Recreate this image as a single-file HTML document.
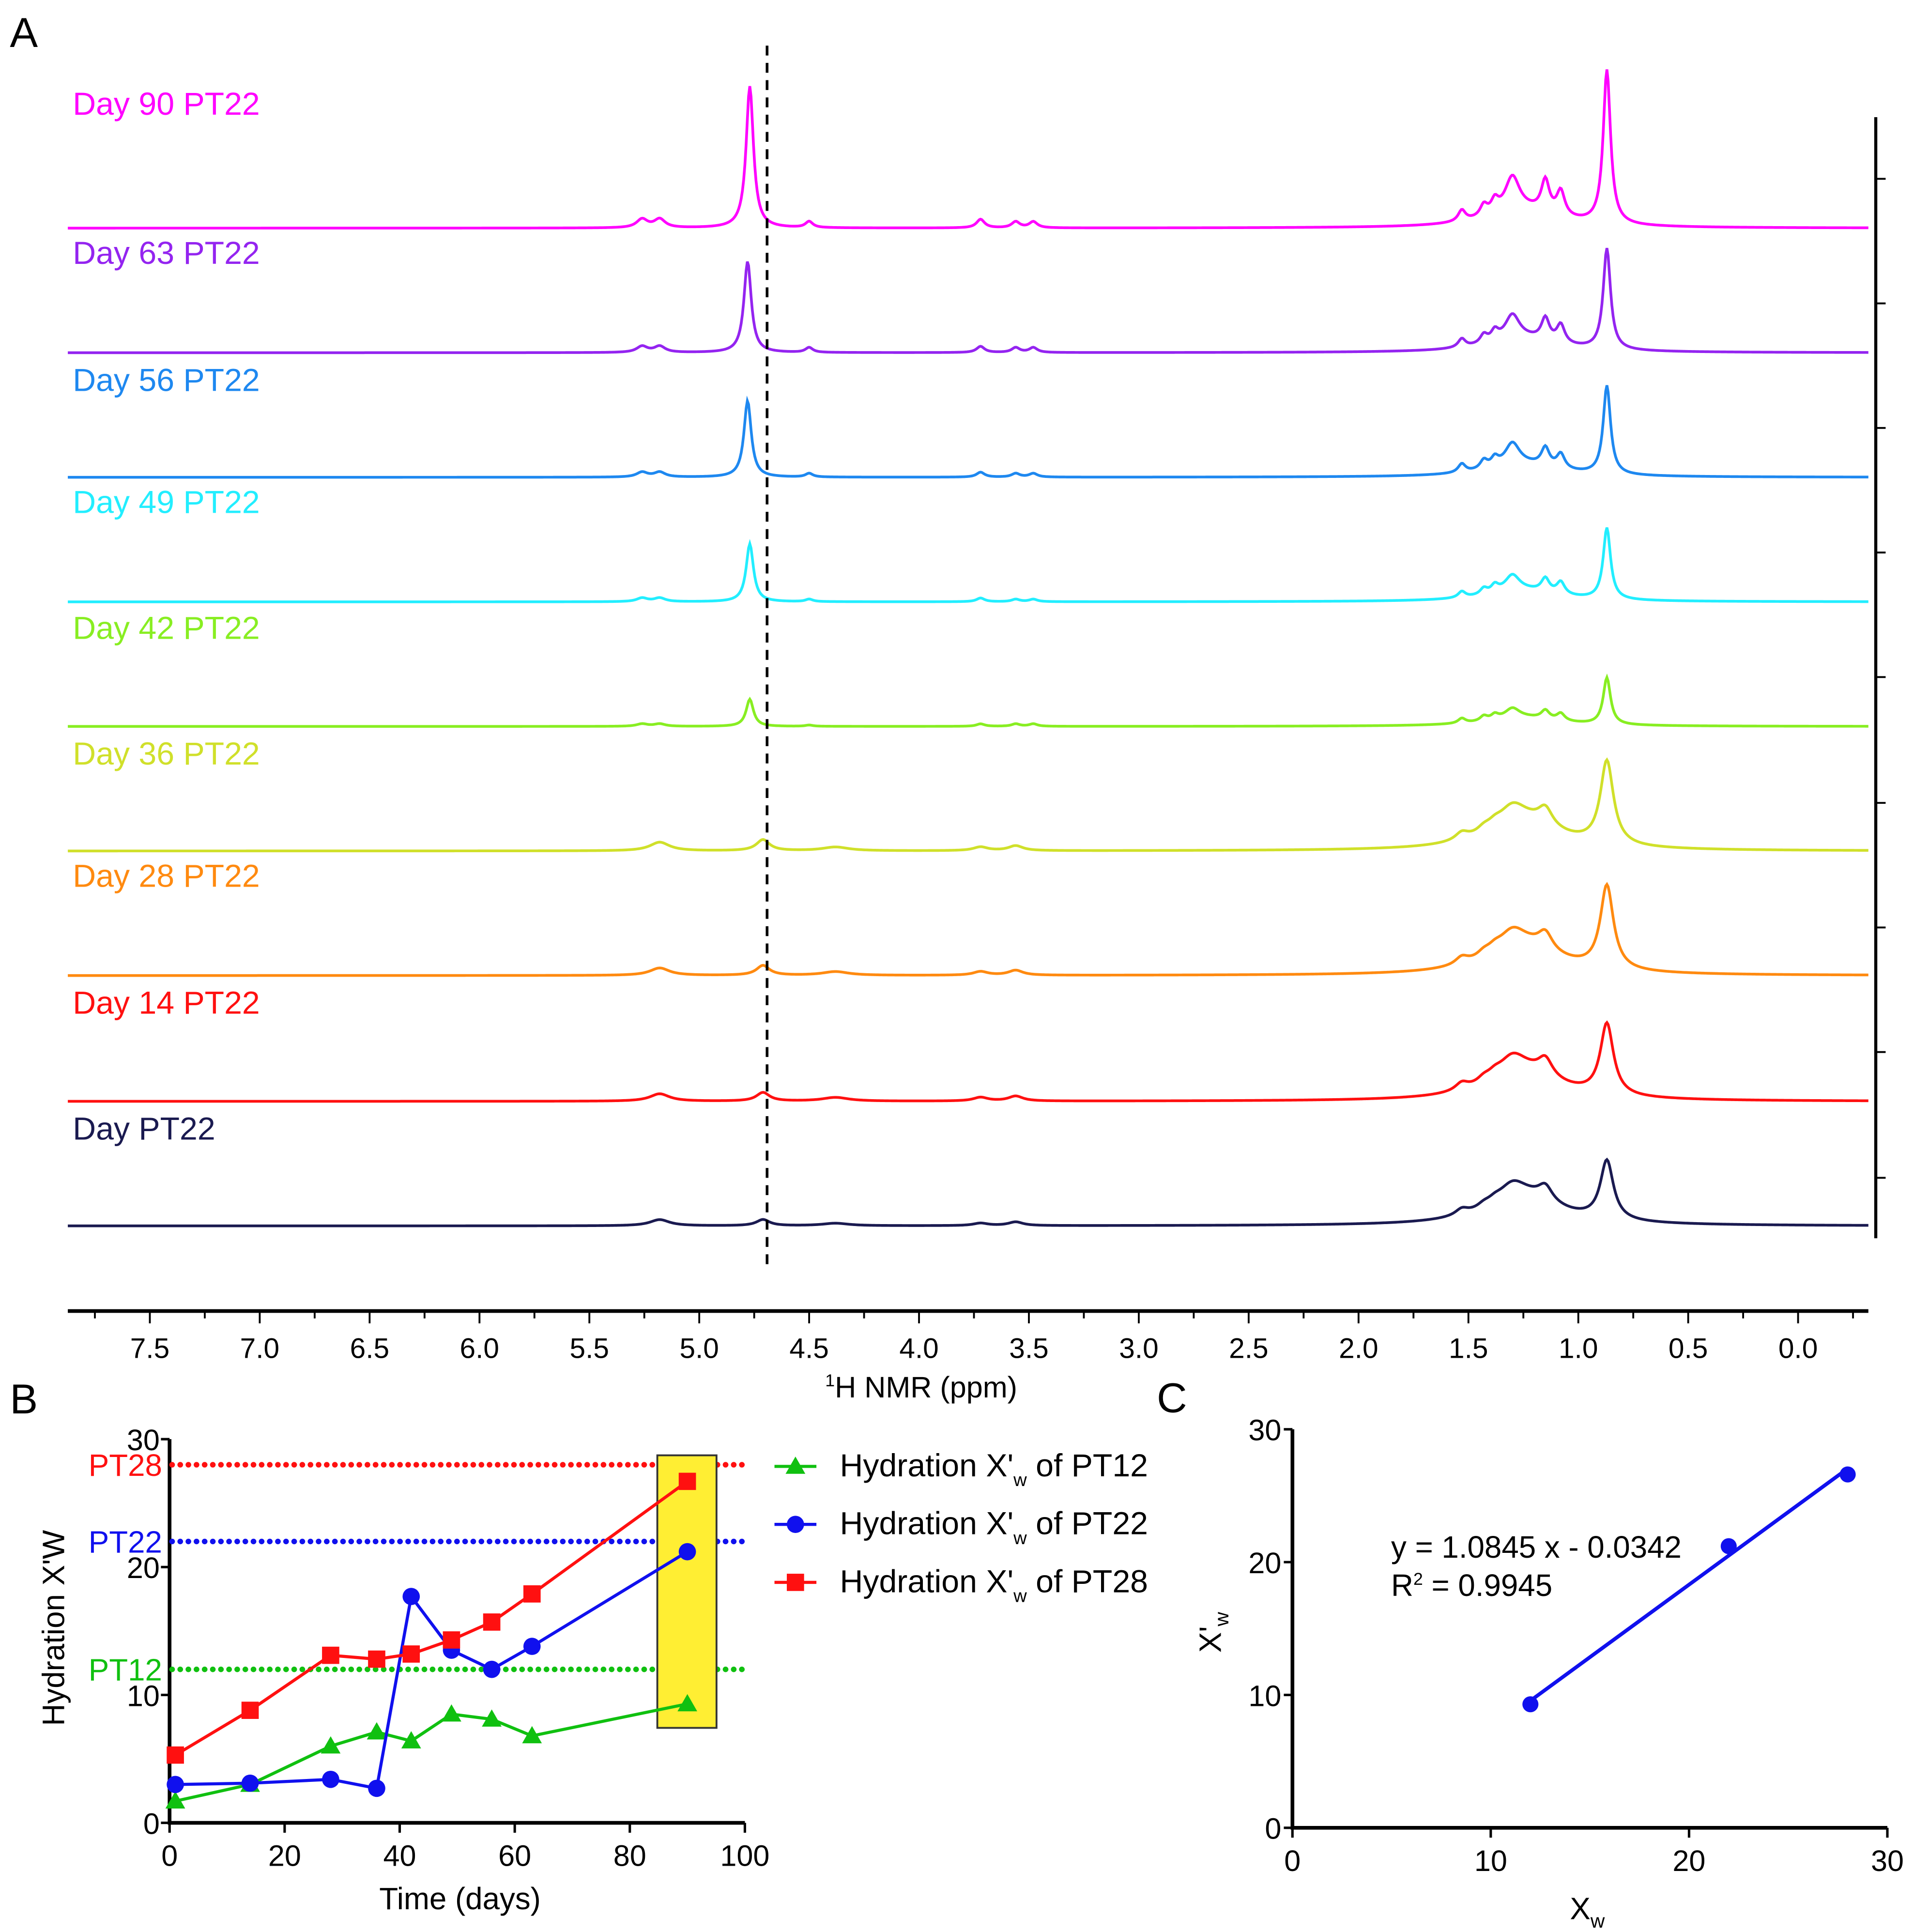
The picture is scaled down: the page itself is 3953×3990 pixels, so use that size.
<!DOCTYPE html>
<html><head><meta charset="utf-8"><style>
html,body{margin:0;padding:0;background:#fff;}
svg{display:block;}
text{font-family:"Liberation Sans",Arial,sans-serif;}
</style></head><body>
<svg id="fig" width="3953" height="3990" viewBox="0 0 1552 1566.5" preserveAspectRatio="none" xmlns="http://www.w3.org/2000/svg"></svg>
<script>
// ---------- Panel A data ----------
const spectrumLabels = ["Day 90 PT22","Day 63 PT22","Day 56 PT22","Day 49 PT22","Day 42 PT22","Day 36 PT22","Day 28 PT22","Day 14 PT22","Day PT22"];
const spectrumColors = ["#ff00ff","#9424f0","#1e88f0","#22eeff","#88ee22","#d0e02a","#ff8a10","#ff1010","#1a1a50"];
const peakPositions = [5.26,5.18,4.77,4.50,4.38,3.72,3.56,3.48,1.53,1.43,1.38,1.30,1.15,1.08,0.87,1.25];
const peakWidths = [0.03,0.03,0.02,0.02,0.04,0.022,0.022,0.022,0.02,0.02,0.02,0.04,0.022,0.022,0.02,0.2];
const waterPositions = [4.77,4.78,4.78,4.77,4.77,4.71,4.71,4.71,4.71];
const widthScales = [1,1,1,1,1,1.8,1.8,1.8,1.8];
const peakHeights = [
 [7,7,115,5,0,7,5,5,9,9,10,28,26,20,125,14],
 [5,5,74,4,0,5,4,4,7,7,8,20,18,15,82,11],
 [4,4,62,3,0,4,3,3,7,7,7,18,15,12,72,10],
 [3,3,47,2,0,3,2,2,5,5,6,13,11,10,58,9],
 [2,2,22,1,0,2,2,2,4,4,4,8,7,6,38,7],
 [0,7,9,0,3,3,4,0,6,4,4,14,14,0,68,24],
 [0,6,8,0,3,3,4,0,6,4,4,14,14,0,68,24],
 [0,6,7,0,3,3,4,0,6,4,4,14,14,0,58,24],
 [0,5,5,0,2,2,3,0,5,3,3,12,12,0,48,24]
];
const baselines = [185,286,387,488,589,690,791,893,994];
const labelCenters = [84,205,308,407,509,611,710,813,915];
const ppmTicks = [7.5,7.0,6.5,6.0,5.5,5.0,4.5,4.0,3.5,3.0,2.5,2.0,1.5,1.0,0.5,0.0];
// ---------- Panel B data ----------
const bDays = [1,14,28,36,42,49,56,63,90];
const bPT12 = [1.7,3.0,6.0,7.1,6.4,8.5,8.1,6.8,9.3];
const bPT22 = [3.0,3.1,3.4,2.7,17.7,13.5,12.0,13.8,21.2];
const bPT28 = [5.3,8.8,13.1,12.8,13.2,14.3,15.7,17.9,26.7];
const bRefs = [28,22,12];
const bRefLabels = ["PT28","PT22","PT12"];
const bXTicks = [0,20,40,60,80,100];
const bYTicks = [0,10,20,30];
// ---------- Panel C data ----------
const cX = [12,22,28];
const cY = [9.3,21.2,26.6];
const cTicks = [0,10,20,30];

const NS="http://www.w3.org/2000/svg";
const svg=document.getElementById('fig');
function el(tag,attrs,parent,txt){const e=document.createElementNS(NS,tag);for(const k in attrs)e.setAttribute(k,attrs[k]);if(txt!==undefined)e.textContent=txt;(parent||svg).appendChild(e);return e;}

// ===== Panel A =====
const gA=el('g',{});


const pA=el('text',{x:8,y:38,'font-size':34},gA,'A');


const xA=p=>1458-p*178.2;
const X0=55,X1=1515;
for(let s=0;s<spectrumLabels.length;s++){
  const pos=peakPositions.slice();pos[2]=waterPositions[s];
  let d='';
  for(let px=X0;px<=X1;px+=1){
    const ppm=(1458-px)/178.2;let y=0;
    for(let k=0;k<pos.length;k++){const g=peakWidths[k]*(k===15?1:widthScales[s]);const h=peakHeights[s][k];const dx=ppm-pos[k];y+=h*g*g/(dx*dx+g*g);}
    d+=(px===X0?'M':'L')+px+','+(baselines[s]-y).toFixed(2);
  }
  const path=el('path',{d:d,fill:'none',stroke:spectrumColors[s],'stroke-width':2.2},gA);
  
  
  const lb=el('text',{x:59,y:labelCenters[s]+9,'font-size':26,fill:spectrumColors[s]},gA,spectrumLabels[s]);
  
  
}
const dl=el('line',{x1:622,y1:37,x2:622,y2:1028,stroke:'#000','stroke-width':2.2,'stroke-dasharray':'8,6'},gA);


const ax=el('line',{x1:55,y1:1063,x2:1515,y2:1063,stroke:'#000','stroke-width':3},gA);


for(let p=7.75;p>=-0.3;p-=0.25){const x=xA(p);if(x<X0||x>X1)continue;const major=Math.abs(p*2-Math.round(p*2))<0.01;el('line',{x1:x,y1:1063,x2:x,y2:major?1073:1069,stroke:'#000','stroke-width':1.5},gA);}
ppmTicks.forEach(t=>{const tx=el('text',{x:xA(t),y:1101,'font-size':23,'text-anchor':'middle'},gA,t.toFixed(1));});
const xt=el('text',{x:747,y:1133,'font-size':24,'text-anchor':'middle'},gA);


el('tspan',{'font-size':14,dy:-9},xt,'1');el('tspan',{dy:9},xt,'H NMR (ppm)');
const ra=el('line',{x1:1521,y1:95,x2:1521,y2:1004,stroke:'#000','stroke-width':2.5},gA);


[145,246,347,448,549,651,752,853,955].forEach(y=>el('line',{x1:1521,y1:y,x2:1529,y2:y,stroke:'#000','stroke-width':1.5},gA));

// ===== Panel B =====
const gB=el('g',{});


const pB=el('text',{x:8,y:1146,'font-size':34},gB,'B');


const bx=v=>137.5+v*4.665, by=v=>1478-v*10.37;
const bAxis=el('path',{d:`M${bx(0)},${by(30)}V${by(0)}H${bx(100)}`,fill:'none',stroke:'#000','stroke-width':3},gB);


bXTicks.forEach(t=>{el('line',{x1:bx(t),y1:by(0),x2:bx(t),y2:by(0)+8,stroke:'#000','stroke-width':2},gB);el('text',{x:bx(t),y:1513,'font-size':24,'text-anchor':'middle'},gB,t);});
bYTicks.forEach(t=>{el('line',{x1:bx(0)-7,y1:by(t),x2:bx(0),y2:by(t),stroke:'#000','stroke-width':2},gB);el('text',{x:bx(0)-8,y:by(t)+9,'font-size':24,'text-anchor':'end'},gB,t);});
const refCols=['#ff1010','#1010ee','#10c010'];
bRefs.forEach((r,i)=>{const l=el('line',{x1:bx(0)+2,y1:by(r),x2:607,y2:by(r),stroke:refCols[i],'stroke-width':4.5,'stroke-dasharray':'0.1,6.5','stroke-linecap':'round'},gB);
 el('text',{x:bx(0)-6,y:by(r)+9,'font-size':25,'text-anchor':'end',fill:refCols[i]},gB,bRefLabels[i]);});
const hl=el('rect',{x:533,y:1180,width:48,height:221,fill:'#ffee33',stroke:'#333','stroke-width':1.5},gB);


function marker(type,x,y,c,g){if(type==='tri')return el('path',{d:`M${x},${y-8}L${x+8},${y+6}L${x-8},${y+6}Z`,fill:c},g);if(type==='circ')return el('circle',{cx:x,cy:y,r:7,fill:c},g);return el('rect',{x:x-7,y:y-7,width:14,height:14,fill:c},g);}
const series=[[bPT12,'#10c010','tri','PT12'],[bPT22,'#1010ee','circ','PT22'],[bPT28,'#ff1010','sq','PT28']];
series.forEach(([vals,c,m,n])=>{
  const d=vals.map((v,i)=>(i?'L':'M')+bx(bDays[i])+','+by(v)).join('');
  const p=el('path',{d:d,fill:'none',stroke:c,'stroke-width':2.5},gB);
  
  
  vals.forEach((v,i)=>{const mk=marker(m,bx(bDays[i]),by(v),c,gB);});
});
series.forEach(([vals,c,m,n],i)=>{const y=1189+i*47;
  const lg=el('g',{},gB);
  el('line',{x1:628,y1:y,x2:662,y2:y,stroke:c,'stroke-width':2.5},lg);marker(m,645,y,c,lg);
  const t=el('text',{x:681,y:y+8,'font-size':26},lg);el('tspan',{},t,"Hydration X'");el('tspan',{'font-size':15,dy:8},t,'w');el('tspan',{dy:-8},t,' of '+n);});
const byt=el('text',{x:0,y:0,'font-size':25,'text-anchor':'middle',transform:'translate(52,1320) rotate(-90)'},gB,"Hydration X'W");


const bxt=el('text',{x:373,y:1548,'font-size':25,'text-anchor':'middle'},gB,'Time (days)');



// ===== Panel C =====
const gC=el('g',{});


const pC=el('text',{x:938,y:1145,'font-size':34},gC,'C');


const cx=v=>1048+v*16.08, cy=v=>1482-v*10.77;
const cAxis=el('path',{d:`M${cx(0)},${cy(30)}V${cy(0)}H${cx(30)}`,fill:'none',stroke:'#000','stroke-width':3},gC);


cTicks.forEach(t=>{el('line',{x1:cx(t),y1:cy(0),x2:cx(t),y2:cy(0)+8,stroke:'#000','stroke-width':2},gC);el('text',{x:cx(t),y:1517,'font-size':24,'text-anchor':'middle'},gC,t);
 el('line',{x1:cx(0)-7,y1:cy(t),x2:cx(0),y2:cy(t),stroke:'#000','stroke-width':2},gC);el('text',{x:cx(0)-9,y:cy(t)+9,'font-size':24,'text-anchor':'end'},gC,t);});
// least-squares fit through the plotted points
const mx=cX.reduce((a,b)=>a+b,0)/cX.length, my=cY.reduce((a,b)=>a+b,0)/cY.length;
let sxy=0,sxx=0;cX.forEach((x,i)=>{sxy+=(x-mx)*(cY[i]-my);sxx+=(x-mx)*(x-mx);});
const fs=sxy/sxx, fi=my-fs*mx;
const xmin=Math.min(...cX), xmax=Math.max(...cX);
const fit=el('line',{x1:cx(xmin),y1:cy(fs*xmin+fi),x2:cx(xmax),y2:cy(fs*xmax+fi),stroke:'#1010ee','stroke-width':3},gC);


cX.forEach((x,i)=>{const c=el('circle',{cx:cx(x),cy:cy(cY[i]),r:6.5,fill:'#1010ee'},gC);});
const eq=el('text',{x:1128,y:1263,'font-size':25},gC,'y = 1.0845 x - 0.0342');


const r2=el('text',{x:1128,y:1294,'font-size':25},gC);


el('tspan',{},r2,'R');el('tspan',{'font-size':14,dy:-9},r2,'2');el('tspan',{dy:9},r2,' = 0.9945');
const cyt=el('text',{x:0,y:0,'font-size':25,transform:'translate(990,1340) rotate(-90)'},gC);


el('tspan',{},cyt,"X'");el('tspan',{'font-size':16,dy:6},cyt,'w');
const cxt=el('text',{x:1273,y:1556,'font-size':25},gC);


el('tspan',{},cxt,'X');el('tspan',{'font-size':16,dy:7},cxt,'w');
</script>
</body></html>
